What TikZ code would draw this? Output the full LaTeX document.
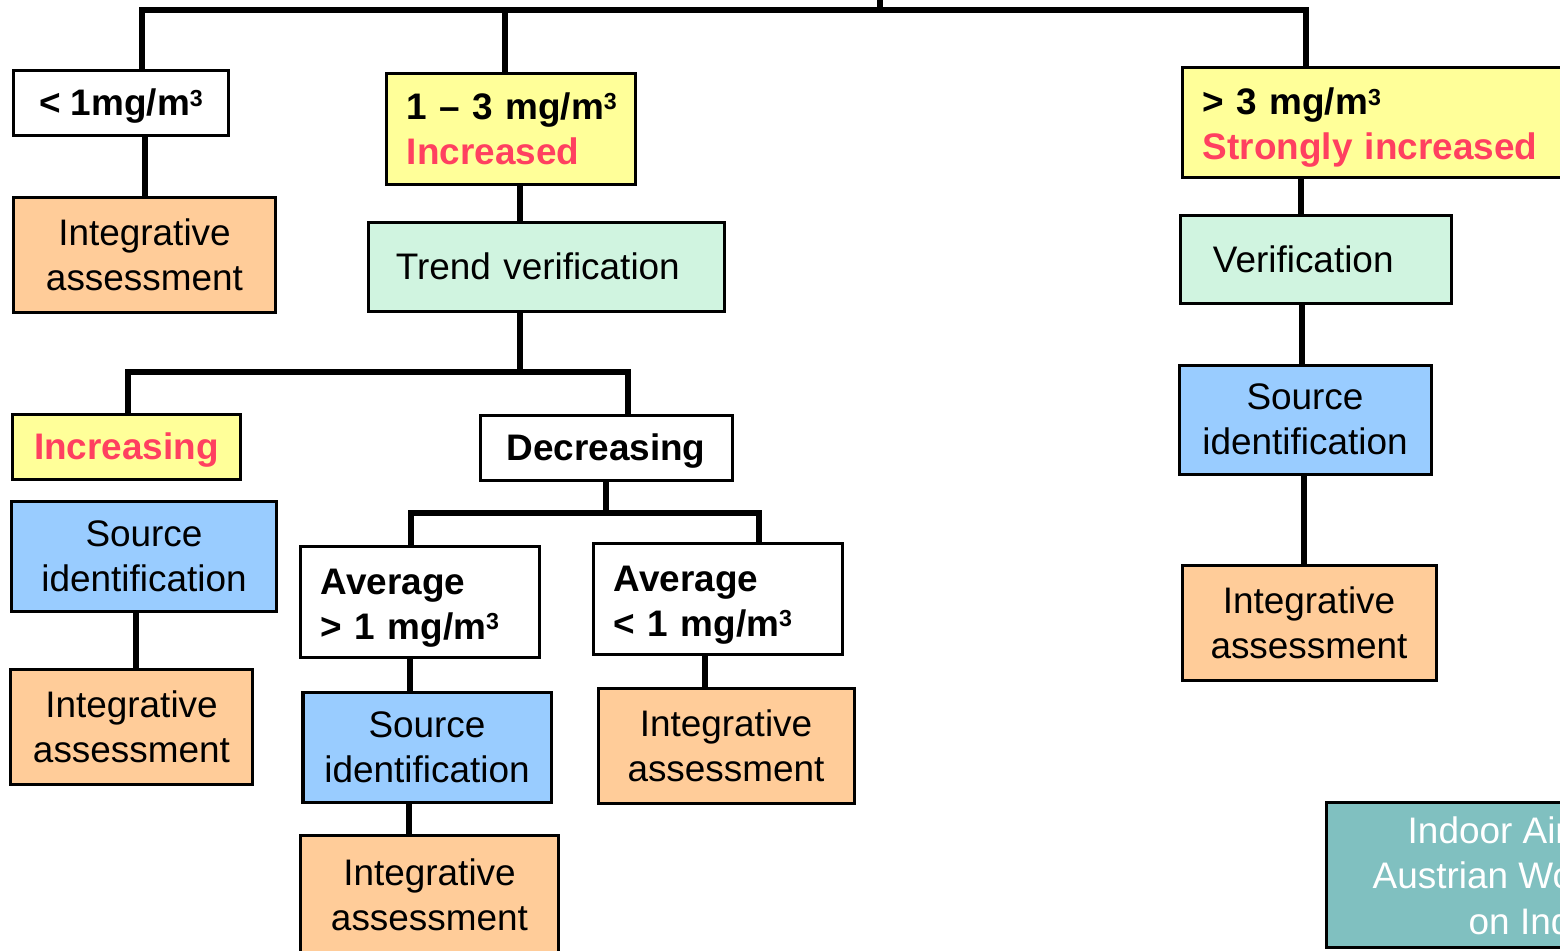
\documentclass[tikz,border=0pt]{standalone}
\usepackage{fontspec}
\setmainfont{Liberation Sans}
\definecolor{yel}{HTML}{FFFF99}
\definecolor{orng}{HTML}{FFCC99}
\definecolor{blu}{HTML}{99CCFF}
\definecolor{mint}{HTML}{D0F4E0}
\definecolor{redt}{HTML}{FF4060}
\definecolor{tealbox}{HTML}{80C0C0}
\newcommand{\fs}{\fontsize{10.5}{12.8}\selectfont}
\newcommand{\cubed}{\raisebox{2.7pt}{\fontsize{6.6}{7}\selectfont 3}}
\newcommand{\bx}[7]{%
  \pgfmathsetmacro{\bxcx}{(#2+#4)/2}%
  \pgfmathsetmacro{\bxcy}{(#3+#5)/2}%
  \pgfmathsetmacro{\bxw}{(#4-#2)*0.01}%
  \pgfmathsetmacro{\bxh}{(#5-#3)*0.01}%
  \node[#6, minimum width=\bxw cm, minimum height=\bxh cm] (#1) at (\bxcx,\bxcy) {#7};}
\newcommand{\tallstrut}{\rule{0pt}{11pt}}
\tikzset{
  boxc/.style={draw, line width=0.03cm, inner sep=0pt, align=center},
  boxl/.style={draw, line width=0.03cm, inner sep=0pt, inner xsep=0.2cm, align=left},
  txt/.style={font=\fs},
  bold/.style={font=\fs\bfseries},
  capc/.style={text height=7.6pt, text depth=0pt},
  conn/.style={line width=0.06cm, line cap=butt, line join=miter}
}
\begin{document}
\begin{tikzpicture}[x=0.01cm,y=-0.01cm]
\useasboundingbox (0,0) rectangle (1560,950);
\clip (0,0) rectangle (1560,950);
% boxes
\bx{A}{14}{70}{228}{135}{boxc, fill=white, bold, capc}{< 1mg/m\cubed}
\bx{B}{14}{197}{275}{312}{boxc, fill=orng, txt}{Integrative\\assessment}
\bx{C}{387}{73}{635}{184}{boxl, fill=yel, bold, text width=2.08cm}{\mbox{1 – 3 mg/m\cubed}\\\textcolor{redt}{Increased}}
\bx{D}{369}{222}{724}{311}{boxl, fill=mint, txt, inner xsep=0.27cm, text width=3.01cm}{\mbox{Trend verification}}
\bx{E}{13}{414}{240}{479}{boxc, fill=yel, bold, capc, text=redt}{Increasing}
\bx{F}{12}{501}{276}{611}{boxc, fill=blu, txt}{Source\\identification}
\bx{G}{11}{669}{252}{784}{boxc, fill=orng, txt}{Integrative\\assessment}
\bx{H}{480}{415}{732}{480}{boxc, fill=white, bold, capc}{Decreasing}
\bx{I}{301}{546}{539}{657}{boxl, fill=white, bold, text width=1.98cm}{\tallstrut Average\\\mbox{> 1 mg/m\cubed}}
\bx{J}{303}{692}{551}{802}{boxc, fill=blu, txt}{Source\\identification}
\bx{K}{301}{835}{558}{955}{boxc, fill=orng, txt}{Integrative\\assessment}
\bx{L}{594}{543}{842}{654}{boxl, fill=white, bold, text width=2.08cm}{\tallstrut Average\\\mbox{< 1 mg/m\cubed}}
\bx{M}{598}{688}{854}{803}{boxc, fill=orng, txt}{Integrative\\assessment}
\bx{N}{1183}{67}{1600}{177}{boxl, fill=yel, bold, text width=3.77cm}{\tallstrut\mbox{> 3 mg/m\cubed}\\\textcolor{redt}{\mbox{Strongly increased}}}
\bx{O}{1181}{215}{1451}{303}{boxl, fill=mint, txt, inner xsep=0.32cm, text width=2.06cm}{Verification}
\bx{P}{1179}{365}{1431}{474}{boxc, fill=blu, txt}{Source\\identification}
\bx{Q}{1182}{565}{1436}{680}{boxc, fill=orng, txt}{Integrative\\assessment}
\bx{R}{1326}{802}{1600}{947}{draw, line width=0.03cm, inner sep=0pt, fill=tealbox}{}
\node[txt, text=white, anchor=base west, inner sep=0pt] (r1) at (1407,843) {Indoor Air};
\node[txt, text=white, anchor=base west, inner sep=0pt] (r2) at (1372,888) {Austrian Wo};
\node[txt, text=white, anchor=base west, inner sep=0pt] (r3) at (1468,934) {on Ind};
% helper coordinates
\coordinate (barup) at (880,-20);
\coordinate (bar) at (880,10);
\coordinate (b2) at (520,372);
\coordinate (b3) at (606,513);
\foreach \xx in {128,136,142,145,409,410,411,505,520,628,705,759,1301,1302,1304,1306}
  \coordinate (x\xx) at (\xx,0);
% connectors
\draw[conn] (barup) -- (bar);
\draw[conn] (A.north -| x142) |- (bar);
\draw[conn] (N.north -| x1306) |- (bar);
\draw[conn] (C.north -| x505) -- (x505 |- bar);
\draw[conn] (A.south -| x145) -- (B.north -| x145);
\draw[conn] (C.south -| x520) -- (D.north -| x520);
\draw[conn] (D.south -| b2) -- (b2);
\draw[conn] (E.north -| x128) |- (b2);
\draw[conn] (H.north -| x628) |- (b2);
\draw[conn] (F.south -| x136) -- (G.north -| x136);
\draw[conn] (H.south -| b3) -- (b3);
\draw[conn] (I.north -| x411) |- (b3);
\draw[conn] (L.north -| x759) |- (b3);
\draw[conn] (I.south -| x410) -- (J.north -| x410);
\draw[conn] (J.south -| x409) -- (K.north -| x409);
\draw[conn] (L.south -| x705) -- (M.north -| x705);
\draw[conn] (N.south -| x1301) -- (O.north -| x1301);
\draw[conn] (O.south -| x1302) -- (P.north -| x1302);
\draw[conn] (P.south -| x1304) -- (Q.north -| x1304);
\end{tikzpicture}
\end{document}
